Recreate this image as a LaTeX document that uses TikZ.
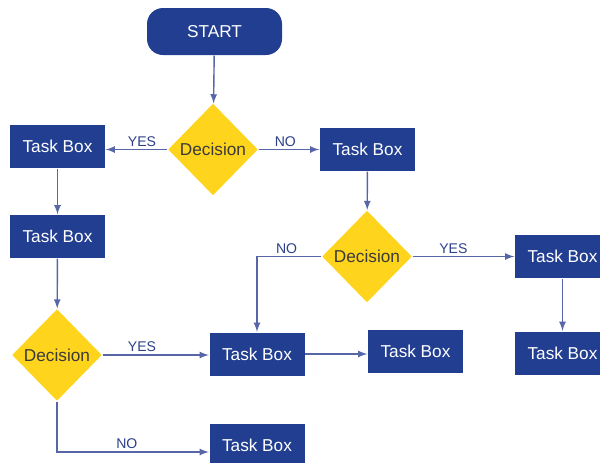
\documentclass[tikz,border=0pt]{standalone}
\usepackage{fontspec}
\setmainfont{Liberation Sans}
\usetikzlibrary{arrows,positioning,shapes,calc}
\definecolor{boxblue}{HTML}{223E91}
\definecolor{linecol}{HTML}{5666A6}
\definecolor{decyellow}{HTML}{FFD41C}
\definecolor{lblblue}{HTML}{2C3F8A}
\definecolor{dectext}{HTML}{3A3A3A}

\begin{document}
\begin{tikzpicture}[>=latex, line width=0.8pt,
  task node/.style={rectangle,fill=boxblue,text=white,minimum width=1.9cm,minimum height=0.86cm,inner sep=0pt},
  start node/.style={rectangle,rounded corners=0.32cm,fill=boxblue,text=white,minimum width=2.7cm,minimum height=0.94cm,inner sep=0pt},
  dec node/.style={diamond,fill=decyellow,text=dectext,minimum width=1.8cm,minimum height=1.84cm,inner sep=0pt},
  lbl/.style={font=\fontsize{8}{9}\selectfont,text=lblblue,inner sep=1.5pt,above},
  conn/.style={draw=linecol,->}]
\useasboundingbox (0,0) rectangle (12,-9.26);
\clip (0,0) rectangle (12,-9.26);
\begin{scope}[every node/.style={font=\fontsize{9.8}{11}\selectfont}]
\node[start node] (start) at (4.29,-0.63) {START};
\node[dec node] (d1) at (4.26,-2.99) {Decision};
\node[task node] (tb1) at (1.15,-2.93) {Task Box};
\node[task node] (tb2) at (7.35,-2.99) {Task Box};
\node[task node] (tb3) at (1.15,-4.73) {Task Box};
\node[dec node] (d2) at (7.34,-5.13) {Decision};
\node[task node] (tbr1) at (11.25,-5.13) {Task Box};
\node[task node] (tbr2) at (11.25,-7.06) {Task Box};
\node[dec node] (d3) at (1.14,-7.1) {Decision};
\node[task node] (tbm) at (5.14,-7.08) {Task Box};
\node[task node] (tbn) at (8.31,-7.02) {Task Box};
\node[task node] (tbb) at (5.14,-8.9) {Task Box};
\end{scope}
\begin{scope}
\draw[conn] (start) -- (d1);
\draw[conn] (d1) -- node[lbl,pos=.41]{YES} (d1 -| tb1.east);
\draw[conn] (d1) -- node[lbl,pos=.44]{NO} (tb2);
\draw[conn] (tb1) -- (tb3);
\draw[conn] (tb3) -- (d3);
\draw[conn] (tb2) -- (d2);
\draw[conn] (d2.west) -| node[lbl,pos=.27]{NO} (tbm.north);
\draw[conn] (d2) -- node[lbl,pos=.4]{YES} (tbr1);
\draw[conn] (tbr1) -- (tbr2);
\draw[conn] (d3) -- node[lbl,pos=.37]{YES} (d3 -| tbm.west);
\draw[conn] (tbm) -- (tbm -| tbn.west);
\draw[conn] (d3.south) |- node[lbl,pos=.73]{NO} ($(tbb.west)+(0,-0.14)$);
\end{scope}
\end{tikzpicture}
\end{document}
